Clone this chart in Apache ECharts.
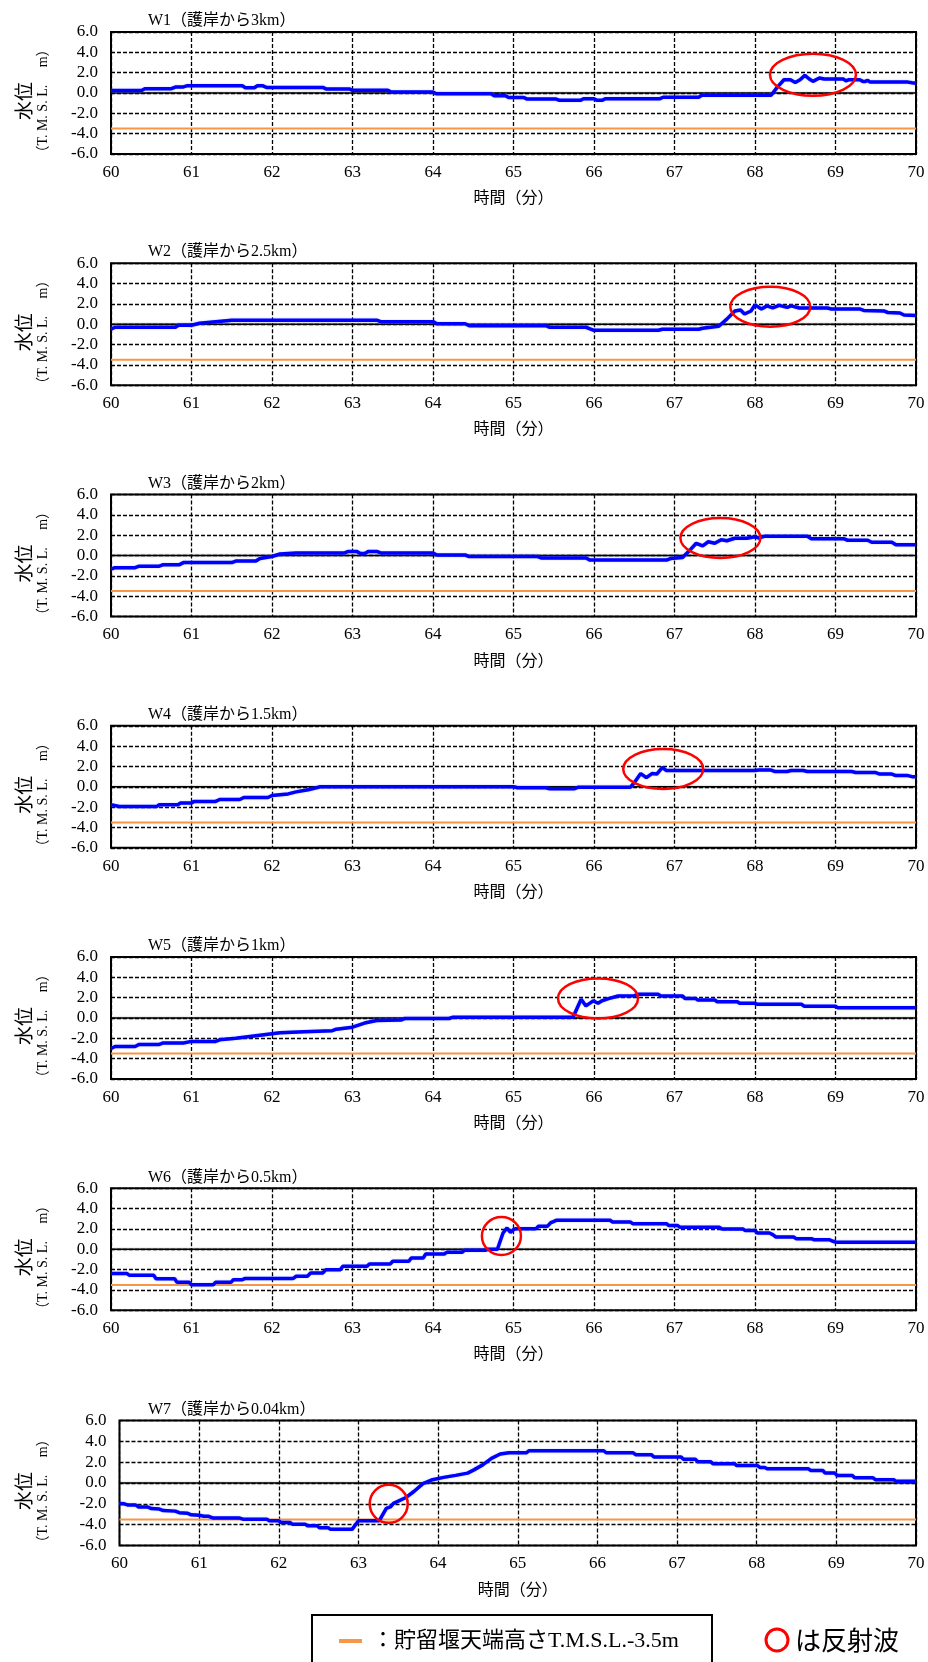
<!DOCTYPE html>
<html><head><meta charset="utf-8">
<script src="https://cdn.jsdelivr.net/npm/echarts@6/dist/echarts.min.js"></script>
<style>html,body{margin:0;padding:0;background:#fff}#c{width:928px;height:1662px}</style>
</head><body><div id="c"></div>
<script>
// ---- data ----
const xTicks = [60,61,62,63,64,65,66,67,68,69,70];
const yTicks = [-6,-4,-2,0,2,4,6];
const panelTitles = ['W1（護岸から3km）','W2（護岸から2.5km）','W3（護岸から2km）','W4（護岸から1.5km）','W5（護岸から1km）','W6（護岸から0.5km）','W7（護岸から0.04km）'];
const weirLevel = [[60,-3.5],[70,-3.5]];
const zeroLevel = [[60,0],[70,0]];
const w1 = [[60.0,0.25],[60.38,0.25],[60.42,0.42],[60.75,0.42],[60.8,0.58],[60.9,0.6],[60.95,0.72],[61.63,0.72],[61.67,0.52],[61.78,0.52],[61.82,0.72],[61.88,0.72],[61.93,0.55],[62.63,0.55],[62.67,0.4],[62.96,0.4],[63.0,0.26],[63.44,0.26],[63.48,0.1],[64.0,0.1],[64.04,-0.07],[64.72,-0.07],[64.76,-0.26],[64.9,-0.26],[64.94,-0.45],[65.13,-0.45],[65.17,-0.6],[65.53,-0.6],[65.57,-0.72],[65.83,-0.72],[65.87,-0.56],[66.0,-0.56],[66.04,-0.72],[66.1,-0.72],[66.14,-0.56],[66.82,-0.56],[66.86,-0.42],[67.3,-0.42],[67.34,-0.22],[68.2,-0.22],[68.28,0.6],[68.36,1.3],[68.44,1.3],[68.5,1.04],[68.56,1.3],[68.62,1.73],[68.67,1.4],[68.72,1.14],[68.8,1.47],[68.86,1.37],[69.1,1.37],[69.13,1.2],[69.16,1.3],[69.3,1.3],[69.34,1.14],[69.37,1.14],[69.4,1.25],[69.43,1.07],[69.9,1.07],[69.95,1.0],[70,0.95]];
const w2 = [[60,-0.5],[60.05,-0.3],[60.8,-0.3],[60.84,-0.1],[61.0,-0.1],[61.1,0.1],[61.3,0.25],[61.5,0.4],[63.3,0.4],[63.35,0.25],[64.0,0.25],[64.05,0.05],[64.4,0.05],[64.45,-0.15],[65.4,-0.15],[65.45,-0.3],[65.9,-0.3],[65.95,-0.45],[66.0,-0.6],[66.8,-0.6],[66.85,-0.5],[67.3,-0.5],[67.35,-0.4],[67.55,-0.2],[67.65,0.5],[67.75,1.3],[67.82,1.4],[67.87,1.0],[67.95,1.3],[68.0,1.9],[68.08,1.5],[68.15,1.8],[68.22,1.6],[68.3,1.85],[68.4,1.65],[68.45,1.8],[68.55,1.6],[68.9,1.6],[68.95,1.5],[69.3,1.5],[69.35,1.35],[69.6,1.3],[69.65,1.15],[69.8,1.1],[69.85,0.9],[70,0.85]];
const w3 = [[60,-1.35],[60.05,-1.2],[60.3,-1.2],[60.35,-1.05],[60.6,-1.05],[60.65,-0.9],[60.85,-0.9],[60.9,-0.7],[61.5,-0.7],[61.55,-0.55],[61.8,-0.55],[61.85,-0.3],[62.0,-0.1],[62.1,0.15],[62.3,0.25],[62.9,0.25],[62.95,0.4],[63.05,0.4],[63.1,0.2],[63.15,0.2],[63.2,0.4],[63.3,0.4],[63.35,0.25],[64.0,0.25],[64.05,0.05],[64.4,0.05],[64.45,-0.1],[65.3,-0.1],[65.35,-0.25],[65.9,-0.25],[65.95,-0.45],[66.9,-0.45],[66.95,-0.3],[67.1,-0.2],[67.2,0.6],[67.27,1.2],[67.35,0.95],[67.42,1.35],[67.5,1.2],[67.58,1.55],[67.65,1.45],[67.75,1.7],[67.9,1.7],[68.0,1.85],[68.05,1.7],[68.12,1.9],[68.65,1.9],[68.7,1.65],[69.1,1.65],[69.15,1.5],[69.4,1.5],[69.45,1.3],[69.7,1.3],[69.75,1.05],[70,1.05]];
const w4 = [[60,-1.75],[60.1,-1.93],[60.57,-1.93],[60.6,-1.77],[60.83,-1.77],[60.86,-1.6],[61.0,-1.6],[61.03,-1.44],[61.3,-1.44],[61.35,-1.25],[61.6,-1.25],[61.65,-1.05],[61.95,-1.05],[62.0,-0.85],[62.2,-0.7],[62.3,-0.5],[62.45,-0.3],[62.6,0.0],[65.0,0.0],[65.05,-0.1],[65.4,-0.1],[65.45,-0.2],[65.75,-0.2],[65.8,-0.05],[66.45,-0.05],[66.5,0.4],[66.58,1.3],[66.65,0.9],[66.72,1.3],[66.78,1.25],[66.85,1.9],[66.9,1.6],[68.0,1.6],[68.05,1.65],[68.2,1.65],[68.25,1.5],[68.4,1.5],[68.45,1.6],[68.6,1.6],[68.65,1.5],[69.2,1.5],[69.25,1.4],[69.5,1.4],[69.55,1.25],[69.7,1.25],[69.75,1.1],[69.9,1.1],[69.95,1.0],[70,1.0]];
const w5 = [[60,-3.0],[60.05,-2.8],[60.3,-2.8],[60.35,-2.6],[60.6,-2.6],[60.65,-2.45],[60.9,-2.45],[61.0,-2.3],[61.3,-2.3],[61.35,-2.15],[61.55,-2.0],[61.75,-1.8],[61.95,-1.6],[62.1,-1.45],[62.4,-1.35],[62.75,-1.25],[62.8,-1.1],[63.0,-0.9],[63.15,-0.5],[63.3,-0.25],[63.6,-0.2],[63.65,-0.05],[64.2,-0.05],[64.25,0.08],[65.74,0.08],[65.84,1.85],[65.9,1.19],[65.99,1.68],[66.05,1.45],[66.1,1.7],[66.18,1.9],[66.3,2.16],[66.5,2.2],[66.55,2.33],[66.8,2.33],[66.83,2.16],[67.1,2.16],[67.13,1.93],[67.26,1.93],[67.29,1.77],[67.5,1.77],[67.53,1.6],[67.78,1.6],[67.81,1.45],[68.0,1.45],[68.03,1.35],[68.58,1.35],[68.61,1.16],[69.0,1.16],[69.03,1.0],[70,1.0]];
const w6 = [[60,-2.39],[60.2,-2.39],[60.23,-2.56],[60.53,-2.56],[60.56,-2.9],[60.79,-2.9],[60.82,-3.25],[60.97,-3.25],[61.0,-3.48],[61.27,-3.48],[61.3,-3.25],[61.49,-3.25],[61.52,-3.0],[61.63,-3.0],[61.66,-2.88],[62.26,-2.88],[62.3,-2.65],[62.44,-2.65],[62.48,-2.33],[62.63,-2.33],[62.67,-2.0],[62.85,-2.0],[62.88,-1.67],[63.18,-1.67],[63.21,-1.44],[63.47,-1.44],[63.5,-1.18],[63.7,-1.18],[63.73,-0.85],[63.88,-0.85],[63.91,-0.46],[64.14,-0.46],[64.17,-0.3],[64.36,-0.3],[64.39,-0.1],[64.65,-0.1],[64.68,0.0],[64.8,0.0],[64.87,1.6],[64.92,2.1],[64.96,1.67],[65.0,1.93],[65.03,2.03],[65.28,2.03],[65.31,2.26],[65.42,2.26],[65.46,2.6],[65.53,2.85],[66.2,2.85],[66.23,2.69],[66.45,2.69],[66.48,2.52],[66.9,2.52],[66.93,2.33],[67.04,2.33],[67.07,2.16],[67.56,2.16],[67.59,2.0],[67.85,2.0],[67.88,1.84],[68.0,1.84],[68.03,1.6],[68.18,1.6],[68.22,1.44],[68.26,1.21],[68.48,1.21],[68.51,1.05],[68.7,1.05],[68.73,0.95],[68.92,0.95],[68.97,0.79],[69.0,0.72],[69.03,0.69],[70,0.69]];
const w7 = [[60,-1.96],[60.06,-2.0],[60.1,-2.1],[60.2,-2.1],[60.24,-2.3],[60.35,-2.3],[60.4,-2.45],[60.5,-2.5],[60.55,-2.65],[60.7,-2.7],[60.75,-2.85],[60.85,-2.9],[60.9,-3.05],[61.0,-3.1],[61.06,-3.2],[61.12,-3.2],[61.17,-3.35],[61.5,-3.35],[61.55,-3.47],[61.85,-3.47],[61.88,-3.63],[62.0,-3.63],[62.03,-3.79],[62.14,-3.79],[62.17,-3.95],[62.33,-3.95],[62.36,-4.1],[62.48,-4.1],[62.51,-4.3],[62.62,-4.3],[62.65,-4.45],[62.92,-4.45],[63.0,-3.63],[63.26,-3.63],[63.35,-2.43],[63.4,-2.3],[63.44,-1.96],[63.59,-1.42],[63.7,-0.79],[63.81,-0.06],[63.93,0.32],[64.07,0.54],[64.22,0.73],[64.37,0.95],[64.45,1.26],[64.56,1.74],[64.67,2.37],[64.78,2.78],[64.89,2.9],[65.11,2.9],[65.14,3.1],[66.08,3.1],[66.11,2.9],[66.45,2.9],[66.48,2.72],[66.68,2.72],[66.71,2.5],[67.05,2.5],[67.08,2.27],[67.23,2.27],[67.26,2.05],[67.42,2.05],[67.45,1.86],[67.72,1.86],[67.75,1.67],[68.01,1.67],[68.04,1.5],[68.1,1.5],[68.13,1.36],[68.65,1.36],[68.68,1.2],[68.83,1.2],[68.86,0.95],[68.98,0.95],[69.01,0.73],[69.2,0.73],[69.23,0.5],[69.46,0.5],[69.49,0.32],[69.72,0.32],[69.75,0.16],[70,0.16]];
const reflectCenters = [[68.72,1.8],[68.19,1.72],[67.57,1.72],[66.86,1.75],[66.05,1.93],[64.85,1.31],[63.38,-2.0]];
const seriesList = [w1,w2,w3,w4,w5,w6,w7];

// ---- layout / style ----
const panelTops = [32, 263.2, 494.5, 725.8, 957, 1188.3, 1420.5];
const panelHeights = [122,122,122,122,122,122,125];
const panelLefts = [111,111,111,111,111,111,119.5];
const ellipseR = [[43,21],[40,20],[40,20],[40,20],[40,20],[19.5,19],[19,19]];
const SERIF = '"Liberation Serif", "Noto Sans CJK JP", serif';
const JP = '"Noto Sans CJK JP", sans-serif';
const BLUE = '#0000FF', ORANGE = '#F79646';

const chart = echarts.init(document.getElementById('c'), null, {renderer:'canvas'});
const grids=[], xAxes=[], yAxes=[], series=[], graphics=[];
for (let i=0;i<7;i++){
  grids.push({left:panelLefts[i], right:12, top:panelTops[i], height:panelHeights[i], show:true, borderColor:'#000', borderWidth:2, backgroundColor:'transparent'});
  xAxes.push({type:'value', gridIndex:i, min:xTicks[0], max:xTicks[xTicks.length-1], interval:1,
    axisLine:{show:false}, axisTick:{show:false},
    axisLabel:{color:'#000', fontFamily:SERIF, fontSize:17, margin:10},
    splitLine:{show:true, lineStyle:{color:'#000', type:[4,2], width:1.3}},
    name:'時間（分）', nameLocation:'middle', nameGap:35,
    nameTextStyle:{color:'#000', fontFamily:JP, fontSize:16}});
  yAxes.push({type:'value', gridIndex:i, min:yTicks[0], max:yTicks[yTicks.length-1], interval:2,
    axisLine:{show:false}, axisTick:{show:false},
    axisLabel:{color:'#000', fontFamily:SERIF, fontSize:17, margin:13, formatter:v=>v.toFixed(1)},
    splitLine:{show:true, lineStyle:{color:'#000', type:[4,2], width:1.3}}});
  series.push({type:'line', xAxisIndex:i, yAxisIndex:i, data:zeroLevel, symbol:'none', silent:true, z:3,
    lineStyle:{color:'#000', width:1.6, shadowColor:'rgba(0,0,0,0.35)', shadowBlur:2}});
  series.push({type:'line', xAxisIndex:i, yAxisIndex:i, data:weirLevel, symbol:'none', silent:true, z:4,
    lineStyle:{color:ORANGE, width:2}});
  series.push({type:'line', xAxisIndex:i, yAxisIndex:i, data:seriesList[i], symbol:'none', silent:true, z:5,
    lineStyle:{color:BLUE, width:3.5, shadowColor:'rgba(80,120,255,0.5)', shadowBlur:1.5}});
  const er = ellipseR[i];
  series.push({type:'custom', xAxisIndex:i, yAxisIndex:i, data:[reflectCenters[i]], silent:true, z:6, clip:false,
    encode:{x:0,y:1},
    renderItem:(params, api)=>{
      const c = api.coord([api.value(0), api.value(1)]);
      return {type:'ellipse', shape:{cx:c[0], cy:c[1], rx:er[0], ry:er[1]}, style:{fill:'none', stroke:'#FF0000', lineWidth:2.5}};
    }});
  // title
  graphics.push({type:'text', left:148, top:panelTops[i]-19, silent:true,
    style:{text:panelTitles[i], font:'16px '+SERIF, fill:'#000'}});
  const cy = panelTops[i] + panelHeights[i]/2 + 8;
  graphics.push({type:'text', x:24, y:cy, rotation:Math.PI/2, silent:true,
    style:{text:'水位', font:'19px '+JP, fill:'#000', textAlign:'center', textVerticalAlign:'middle'}});
  graphics.push({type:'text', x:43, y:cy, rotation:Math.PI/2, silent:true,
    style:{text:'（T. M. S. L.　 m）', font:'14px '+SERIF, fill:'#000', textAlign:'center', textVerticalAlign:'middle'}});
}
// legend box
graphics.push({type:'rect', shape:{x:312, y:1615, width:400, height:80}, silent:true,
  style:{fill:'#fff', stroke:'#000', lineWidth:2}});
graphics.push({type:'line', shape:{x1:339, y1:1641, x2:362, y2:1641}, silent:true,
  style:{stroke:ORANGE, lineWidth:4}});
graphics.push({type:'text', x:372, y:1641, silent:true,
  style:{text:'：貯留堰天端高さT.M.S.L.-3.5m', font:'22px '+SERIF, fill:'#000', textVerticalAlign:'middle'}});
graphics.push({type:'circle', shape:{cx:777, cy:1640, r:11}, silent:true,
  style:{fill:'none', stroke:'#FF0000', lineWidth:3}});
graphics.push({type:'text', x:795, y:1640, silent:true,
  style:{text:'は反射波', font:'26px '+JP, fill:'#000', textVerticalAlign:'middle'}});

chart.setOption({animation:false, backgroundColor:'#fff', grid:grids, xAxis:xAxes, yAxis:yAxes, series:series, graphic:graphics});
</script></body></html>
